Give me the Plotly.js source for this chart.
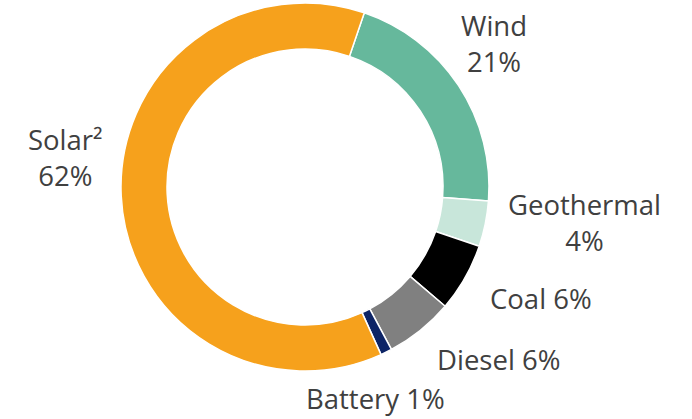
<!DOCTYPE html>
<html>
<head>
<meta charset="utf-8">
<script src="https://cdn.plot.ly/plotly-3.0.1.min.js"></script>
<style>html,body{margin:0;padding:0;background:#fff;}#chart{width:692px;height:419px;}</style>
</head>
<body>
<div id="chart"></div>
<script>
const categories = ["Wind", "Geothermal", "Coal", "Diesel", "Battery", "Solar²"];
const shares = [21, 4, 6, 6, 1, 62];
const sliceColors = ["#66B89C", "#C8E6DA", "#000000", "#808080", "#0D2466", "#F6A11C"];
const labelTexts = ["Wind<br>21%", "Geothermal<br>4%", "Coal 6%", "Diesel 6%", "Battery 1%", "Solar²<br>62%"];
const labelPos = [[494, 44], [584, 222], [541, 298], [498, 359], [376, 398], [65, 157]];

const W = 692, H = 419;
const trace = {
  type: "pie",
  labels: categories,
  values: shares,
  sort: false,
  direction: "clockwise",
  rotation: 18.8,
  hole: 0.75,
  textinfo: "none",
  hoverinfo: "label+percent",
  showlegend: false,
  marker: {colors: sliceColors, line: {color: "#ffffff", width: 1.5}},
  domain: {x: [121 / W, 489 / W], y: [(H - 371) / H, (H - 3) / H]}
};

const annotations = labelTexts.map((t, i) => ({
  text: t,
  x: labelPos[i][0] / W,
  y: 1 - labelPos[i][1] / H,
  xref: "paper", yref: "paper",
  xanchor: "center", yanchor: "middle",
  showarrow: false,
  align: "center",
  font: {family: "Open Sans, sans-serif", size: 27.5, color: "#404040"}
}));

Plotly.newPlot("chart", [trace], {
  width: W, height: H,
  margin: {l: 0, r: 0, t: 0, b: 0},
  paper_bgcolor: "#ffffff",
  plot_bgcolor: "#ffffff",
  annotations: annotations
}, {staticPlot: true});
</script>
</body>
</html>
